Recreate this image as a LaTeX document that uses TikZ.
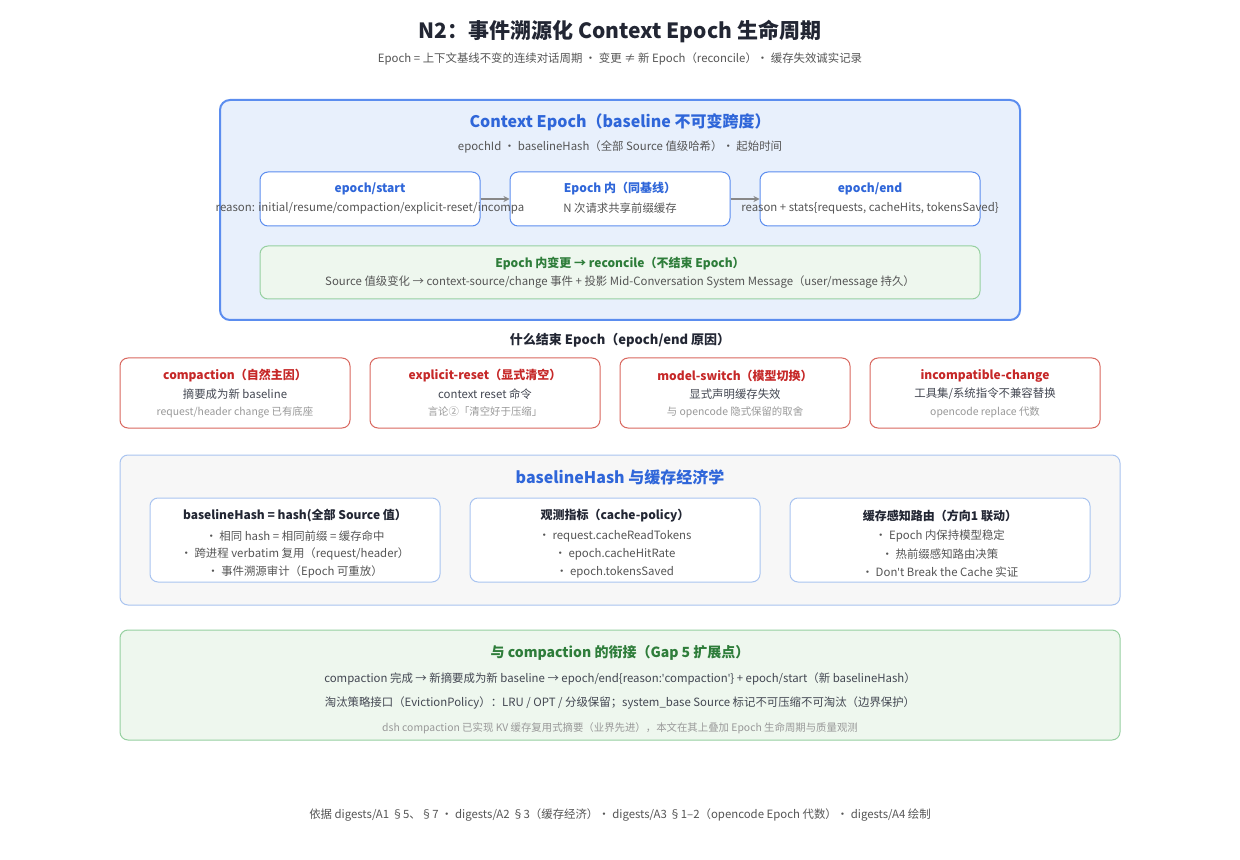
\documentclass[tikz,border=0pt]{standalone}
\usepackage{fontspec}
\setmainfont{Noto Sans CJK SC}
\newfontfamily\latf{Noto Sans}
\usetikzlibrary{arrows.meta}
\definecolor{tdark}{HTML}{222633}
\definecolor{tgray}{HTML}{555555}
\definecolor{tlight}{HTML}{999999}
\definecolor{bblue}{HTML}{2F66D9}
\definecolor{bborder}{HTML}{5B8DEF}
\definecolor{bfill}{HTML}{E8F0FC}
\definecolor{gborder}{HTML}{96D0A0}
\definecolor{gfill}{HTML}{EEF7EE}
\definecolor{gtext}{HTML}{2E7D3A}
\definecolor{rborder}{HTML}{D9675F}
\definecolor{rtext}{HTML}{C62828}
\definecolor{lborder}{HTML}{A9C4F0}
\newcommand{\sq}{{\latf\char"0027}}
\tikzset{
 x=0.5pt,y=-0.5pt,
 box/.style={draw, rounded corners=4pt, line width=0.5pt},
 t/.style={font=\fontsize{5.7}{6}\selectfont, text=tgray, inner sep=0},
 tb/.style={font=\fontsize{6}{7}\selectfont\bfseries, inner sep=0},
 ts/.style={font=\fontsize{5.2}{6}\selectfont, text=tlight, inner sep=0},
 head/.style={font=\fontsize{8}{9}\selectfont\bfseries, text=bblue, inner sep=0},
 arr/.style={draw=tgray!70, line width=0.6pt, -{Stealth[length=3pt,width=3pt]}}
}
\begin{document}
\begin{tikzpicture}
\useasboundingbox[fill=white] (0,0) rectangle (1240,860);
\node[font=\fontsize{10.5}{12}\selectfont\bfseries, text=tdark] (title) at (620,32) {N2：事件溯源化 Context Epoch 生命周期};
\node[t] (sub) at (620,59) {Epoch = 上下文基线不变的连续对话周期 · 变更 ≠ 新 Epoch（reconcile）· 缓存失效诚实记录};

\node[box, draw=bborder, fill=bfill, line width=1pt, rounded corners=5pt, minimum width=400pt, minimum height=110pt] (ctx) at (620,210) {};
\node[head] (ctxh) at (620,122) {Context Epoch（baseline 不可变跨度）};
\node[t] (ctxs) at (620,147) {epochId · baselineHash（全部 Source 值级哈希）· 起始时间};

\node[box, draw=bborder, fill=white, minimum width=110pt, minimum height=27pt] (es) at (370,199) {};
\node[box, draw=bborder, fill=white, minimum width=110pt, minimum height=27pt] (ei) at (620,199) {};
\node[box, draw=bborder, fill=white, minimum width=110pt, minimum height=27pt] (ee) at (870,199) {};
\node[tb, text=bblue] at (370,189) {epoch/start};
\node[t] at (370,208) {reason: initial/resume/compaction/explicit-reset/incompa};
\node[tb, text=bblue] at (620,189) {Epoch 内（同基线）};
\node[t] at (620,208) {N 次请求共享前缀缓存};
\node[tb, text=bblue] at (870,189) {epoch/end};
\node[t] at (870,208) {reason + stats\{requests, cacheHits, tokensSaved\}};
\draw[arr] (es) -- (ei);
\draw[arr] (ei) -- (ee);

\node[box, draw=gborder, fill=gfill, minimum width=360pt, minimum height=26.5pt] (rec) at (620,272.5) {};
\node[tb, text=gtext] at (620,264) {Epoch 内变更 → reconcile（不结束 Epoch）};
\node[t] at (620,282) {Source 值级变化 → context-source/change 事件 + 投影 Mid-Conversation System Message（user/message 持久）};

\node[font=\fontsize{6.5}{8}\selectfont\bfseries, text=tdark, inner sep=0] (why) at (620,340) {什么结束 Epoch（epoch/end 原因）};

\foreach \cx/\a/\b/\c [count=\i] in {
 235/{compaction（自然主因）}/{摘要成为新 baseline}/{request/header change 已有底座},
 485/{explicit-reset（显式清空）}/{context reset 命令}/{言论②「清空好于压缩」},
 735/{model-switch（模型切换）}/{显式声明缓存失效}/{与 opencode 隐式保留的取舍},
 985/{incompatible-change}/{工具集/系统指令不兼容替换}/{opencode replace 代数}}{
 \node[box, draw=rborder, fill=white, minimum width=115pt, minimum height=35pt] (r\i) at (\cx,393) {};
 \node[tb, text=rtext] at (\cx,376) {\a};
 \node[t, text=tdark!85] at (\cx,394) {\b};
 \node[ts] at (\cx,412) {\c};
}

\node[box, draw=lborder, fill=black!3, minimum width=500pt, minimum height=75pt] (econ) at (620,530) {};
\node[head] at (620,477) {baselineHash 与缓存经济学};
\foreach \cx/\w/\h/\a/\b/\c [count=\i] in {
 295/145pt/{baselineHash = hash(全部 Source 值）}/{· 相同 hash = 相同前缀 = 缓存命中}/{· 跨进程 verbatim 复用（request/header）}/{· 事件溯源审计（Epoch 可重放）},
 615/145pt/{观测指标（cache-policy）}/{· request.cacheReadTokens}/{· epoch.cacheHitRate}/{· epoch.tokensSaved},
 940/150pt/{缓存感知路由（方向1 联动）}/{· Epoch 内保持模型稳定}/{· 热前缀感知路由决策}/{· Don\sq t Break the Cache 实证}}{
 \node[box, draw=lborder, fill=white, minimum width=\w, minimum height=42pt] (m\i) at (\cx,540) {};
 \node[tb, text=tdark] at (\cx,516) {\h};
 \node[t] at (\cx,536) {\a};
 \node[t] at (\cx,554) {\b};
 \node[t] at (\cx,572) {\c};
}

\node[box, draw=gborder, fill=gfill, minimum width=500pt, minimum height=55pt] (gap) at (620,685) {};
\node[font=\fontsize{7}{8}\selectfont\bfseries, text=gtext, inner sep=0] at (620,653) {与 compaction 的衔接（Gap 5 扩展点）};
\node[t, text=tdark!85] at (620,679) {compaction 完成 → 新摘要成为新 baseline → epoch/end\{reason:\sq compaction\sq\} + epoch/start（新 baselineHash）};
\node[t, text=tdark!85] at (620,703) {淘汰策略接口（EvictionPolicy）：LRU / OPT / 分级保留；system\_base Source 标记不可压缩不可淘汰（边界保护）};
\node[ts] at (620,728) {dsh compaction 已实现 KV 缓存复用式摘要（业界先进），本文在其上叠加 Epoch 生命周期与质量观测};

\node[t] (foot) at (620,815) {依据 digests/A1 §5、§7 · digests/A2 §3（缓存经济）· digests/A3 §1–2（opencode Epoch 代数）· digests/A4 绘制};
\end{tikzpicture}
\end{document}
